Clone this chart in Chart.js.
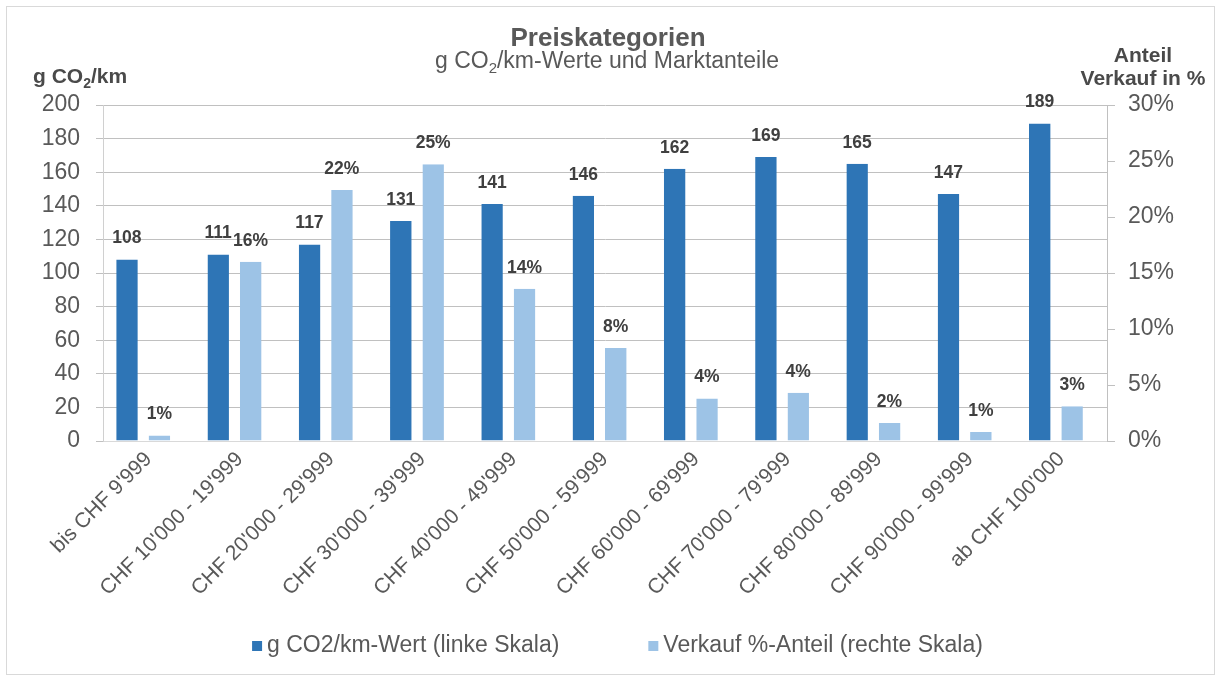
<!DOCTYPE html>
<html lang="de">
<head>
<meta charset="utf-8">
<title>Preiskategorien</title>
<script src="https://cdn.jsdelivr.net/npm/chart.js@4.4.1/dist/chart.umd.min.js"></script>
<style>
  html, body { margin: 0; padding: 0; background: #fff; }
  #wrap { width: 1221px; height: 680px; }
</style>
</head>
<body>
<div id="wrap"><canvas id="chart" width="1221" height="680"></canvas></div>
<script>
const categories = [
  "bis CHF 9'999",
  "CHF 10'000 - 19'999",
  "CHF 20'000 - 29'999",
  "CHF 30'000 - 39'999",
  "CHF 40'000 - 49'999",
  "CHF 50'000 - 59'999",
  "CHF 60'000 - 69'999",
  "CHF 70'000 - 79'999",
  "CHF 80'000 - 89'999",
  "CHF 90'000 - 99'999",
  "ab CHF 100'000"
];
const co2Values = [108, 111, 117, 131, 141, 146, 162, 169, 165, 147, 189];
const shareValues = [0.5, 16.0, 22.4, 24.7, 13.6, 8.3, 3.8, 4.3, 1.6, 0.8, 3.1];

const co2Ticks = [0, 20, 40, 60, 80, 100, 120, 140, 160, 180, 200];
const shareTicks = [0, 5, 10, 15, 20, 25, 30];

const seriesNames = ['g CO2/km-Wert (linke Skala)', 'Verkauf %-Anteil (rechte Skala)'];
const seriesColors = ['#2e75b6', '#9dc3e6'];
const titleText = 'Preiskategorien';
const subtitleParts = [{ text: 'g CO' }, { text: '2', sub: true }, { text: '/km-Werte und Marktanteile' }];
const leftTitleParts = [{ text: 'g CO' }, { text: '2', sub: true }, { text: '/km' }];
const rightTitleLines = ['Anteil', 'Verkauf in %'];

const FONT = '"Liberation Sans", Arial, Helvetica, sans-serif';
const GAP = 11; // transparent right border = space between the two bars of a group

function drawParts(ctx, parts, x, y, size, weight, align) {
  const fontFor = p => `${weight} ${p.sub ? Math.round(size * 0.65) : size}px ${FONT}`;
  let w = 0;
  parts.forEach(p => { ctx.font = fontFor(p); w += ctx.measureText(p.text).width; });
  let cx = align === 'center' ? x - w / 2 : align === 'right' ? x - w : x;
  ctx.textAlign = 'left';
  ctx.textBaseline = 'alphabetic';
  parts.forEach(p => {
    ctx.font = fontFor(p);
    ctx.fillText(p.text, cx, p.sub ? y + size * 0.22 : y);
    cx += ctx.measureText(p.text).width;
  });
}

// background, outer frame, titles and the bottom legend
const frame = {
  id: 'frame',
  beforeDraw(chart) {
    const ctx = chart.ctx;
    ctx.save();
    ctx.fillStyle = '#fff';
    ctx.fillRect(0, 0, chart.width, chart.height);
    ctx.strokeStyle = '#d9d9d9';
    ctx.lineWidth = 1;
    ctx.strokeRect(6.5, 6.5, chart.width - 13, chart.height - 12);
    ctx.restore();
  },
  afterDraw(chart) {
    const ctx = chart.ctx;
    ctx.save();
    ctx.fillStyle = '#595959';
    drawParts(ctx, [{ text: titleText }], 608, 46, 26, 'bold', 'center');
    drawParts(ctx, subtitleParts, 607, 68, 23, 'normal', 'center');
    ctx.fillStyle = '#4a4a4a';
    drawParts(ctx, leftTitleParts, 33, 83, 21, 'bold', 'left');
    drawParts(ctx, [{ text: rightTitleLines[0] }], 1143, 62, 21, 'bold', 'center');
    drawParts(ctx, [{ text: rightTitleLines[1] }], 1143, 85, 21, 'bold', 'center');

    // legend
    const box = 10, textGap = 15, itemGap = 89, cy = 646;
    ctx.font = `23px ${FONT}`;
    const items = chart.data.datasets.map(ds => ({
      text: ds.label, color: ds.backgroundColor, w: ctx.measureText(ds.label).width
    }));
    const total = items.reduce((s, it) => s + textGap + it.w, 0) + itemGap * (items.length - 1);
    let x = 617.5 - total / 2;
    ctx.textAlign = 'left';
    ctx.textBaseline = 'middle';
    items.forEach(it => {
      ctx.fillStyle = it.color;
      ctx.fillRect(x, cy - box / 2, box, box);
      ctx.fillStyle = '#595959';
      ctx.fillText(it.text, x + textGap, cy);
      x += textGap + it.w + itemGap;
    });
    ctx.restore();
  }
};

const valueLabels = {
  id: 'valueLabels',
  afterDatasetsDraw(chart) {
    const ctx = chart.ctx;
    ctx.save();
    ctx.font = `bold 17.5px ${FONT}`;
    ctx.fillStyle = '#404040';
    ctx.textAlign = 'center';
    ctx.textBaseline = 'middle';
    chart.data.datasets.forEach((ds, i) => {
      chart.getDatasetMeta(i).data.forEach((bar, j) => {
        const v = ds.data[j];
        const text = i === 0 ? String(v) : Math.round(v) + '%';
        ctx.fillText(text, bar.x - GAP / 2, bar.y - 21);
      });
    });
    ctx.restore();
  }
};

const tickFont = { family: FONT, size: 23 };

new Chart(document.getElementById('chart'), {
  type: 'bar',
  data: {
    labels: categories,
    datasets: [
      {
        label: seriesNames[0],
        data: co2Values,
        yAxisID: 'y',
        backgroundColor: seriesColors[0],
        borderColor: 'rgba(0,0,0,0)',
        borderWidth: { right: GAP },
        borderSkipped: false
      },
      {
        label: seriesNames[1],
        data: shareValues,
        yAxisID: 'y1',
        backgroundColor: seriesColors[1],
        borderColor: 'rgba(0,0,0,0)',
        borderWidth: { right: GAP },
        borderSkipped: false
      }
    ]
  },
  options: {
    responsive: false,
    animation: false,
    events: [],
    categoryPercentage: 0.71,
    barPercentage: 1,
    layout: { padding: { top: 105, left: 8, right: 0, bottom: 0 } },
    plugins: {
      title: { display: false },
      tooltip: { enabled: false },
      legend: { display: false }
    },
    scales: {
      x: {
        grid: { display: false, drawTicks: false },
        border: { color: '#d9d9d9' },
        ticks: {
          autoSkip: false,
          maxRotation: 45,
          minRotation: 45,
          padding: 6,
          color: '#595959',
          font: { family: FONT, size: 21 }
        },
        afterFit(scale) { scale.height = 239; }
      },
      y: {
        position: 'left',
        min: co2Ticks[0],
        max: co2Ticks[co2Ticks.length - 1],
        afterBuildTicks(scale) { scale.ticks = co2Ticks.map(v => ({ value: v })); },
        grid: {
          color: ctx => ctx.tick && ctx.tick.value === 0 ? '#d9d9d9' : '#c0c0c0',
          tickLength: 7,
          tickColor: '#c0c0c0'
        },
        border: { color: '#d0d0d0' },
        ticks: { padding: 16, color: '#595959', font: tickFont },
        afterFit(scale) { scale.width = 95; }
      },
      y1: {
        position: 'right',
        min: shareTicks[0],
        max: shareTicks[shareTicks.length - 1],
        afterBuildTicks(scale) { scale.ticks = shareTicks.map(v => ({ value: v })); },
        grid: { drawOnChartArea: false, tickLength: 8, color: '#c0c0c0' },
        border: { color: '#c0c0c0' },
        ticks: { padding: 13, color: '#595959', font: tickFont, callback: v => v + '%' },
        afterFit(scale) { scale.width = 114; }
      }
    }
  },
  plugins: [frame, valueLabels]
});
</script>
</body>
</html>
